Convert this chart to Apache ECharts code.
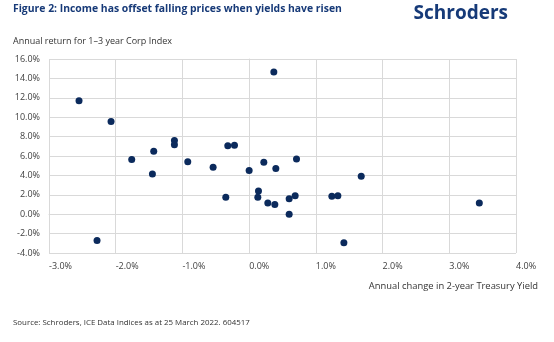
<!DOCTYPE html>
<html>
<head>
<meta charset="utf-8">
<script src="https://cdn.jsdelivr.net/npm/echarts@6/dist/echarts.min.js"></script>
<style>
  html, body { margin: 0; padding: 0; background: #fff; }
  #chart { width: 554px; height: 342px; }
</style>
</head>
<body>
<div id="chart"></div>
<script>
// Annual change in 2-year Treasury yield (%) vs annual return of 1-3 year Corp Index (%)
const yieldChange = [-2.55, -2.07, -2.28, -1.76, -1.43, -1.45, -1.12, -1.12, -0.92, -0.54,
  -0.35, -0.32, -0.22, 0.0, 0.14, 0.13, 0.22, 0.37, 0.40, 0.28,
  0.385, 0.60, 0.60, 0.69, 0.71, 1.24, 1.33, 1.42, 1.68, 3.45];
const corpReturn = [11.7, 9.55, -2.7, 5.65, 6.5, 4.15, 7.6, 7.15, 5.4, 4.85,
  1.75, 7.05, 7.1, 4.5, 2.4, 1.75, 5.35, 14.65, 4.7, 1.15,
  1.0, 0.0, 1.6, 1.9, 5.7, 1.85, 1.9, -2.95, 3.9, 1.15];

const xTicks = { min: -3, max: 4, step: 1 };
const yTicks = { min: -4, max: 16, step: 2 };

const points = yieldChange.map((x, i) => [x, corpReturn[i]]);

const font = '"Open Sans", "Noto Sans", sans-serif';
const chart = echarts.init(document.getElementById('chart'), null, { renderer: 'canvas' });

chart.setOption({
  backgroundColor: '#ffffff',
  animation: false,
  textStyle: { fontFamily: font },
  grid: { left: 49, right: 38, top: 59, bottom: 89, containLabel: false },
  xAxis: {
    type: 'value',
    min: xTicks.min, max: xTicks.max, interval: xTicks.step,
    axisLine: { show: true, lineStyle: { color: '#d9d9d9' } },
    axisTick: { show: false },
    splitLine: { show: true, lineStyle: { color: '#d9d9d9', width: 1 } },
    axisLabel: {
      color: '#404040', fontSize: 9, fontFamily: font, margin: 9, align: 'left',
      formatter: v => v.toFixed(1) + '%'
    }
  },
  yAxis: {
    type: 'value',
    min: yTicks.min, max: yTicks.max, interval: yTicks.step,
    axisLine: { show: true, lineStyle: { color: '#d9d9d9' } },
    axisTick: { show: false },
    splitLine: { show: true, lineStyle: { color: '#d9d9d9', width: 1 } },
    axisLabel: {
      color: '#404040', fontSize: 9, fontFamily: font, margin: 9,
      formatter: v => v.toFixed(1) + '%'
    }
  },
  series: [{
    type: 'scatter',
    data: points,
    symbol: 'circle',
    symbolSize: 7,
    itemStyle: { color: '#0b2a5c', opacity: 1 }
  }],
  graphic: [
    {
      type: 'text', left: 13, top: 4,
      style: { text: 'Figure 2: Income has offset falling prices when yields have risen',
        fill: '#173a78', font: 'bold 10.4px ' + font }
    },
    {
      type: 'text', right: 46, top: 4,
      style: { text: 'Schroders', fill: '#163a78', font: 'bold 19px ' + font }
    },
    {
      type: 'text', left: 13, top: 37,
      style: { text: 'Annual return for 1\u20133 year Corp Index', fill: '#333333', font: '9px ' + font }
    },
    {
      type: 'text', right: 16, top: 282,
      style: { text: 'Annual change in 2-year Treasury Yield', fill: '#333333', font: '9.4px ' + font }
    },
    {
      type: 'text', left: 13, top: 319,
      style: { text: 'Source: Schroders, ICE Data Indices as at 25 March 2022. 604517', fill: '#333333', font: '7.9px ' + font }
    }
  ]
});
</script>
</body>
</html>
